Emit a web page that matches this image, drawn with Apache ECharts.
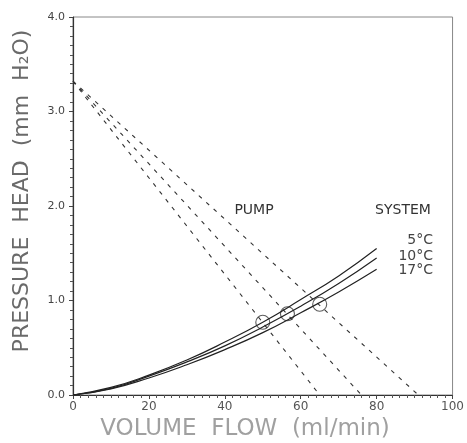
<!DOCTYPE html>
<html>
<head>
<meta charset="utf-8">
<script src="https://cdn.jsdelivr.net/npm/echarts@6/dist/echarts.min.js"></script>
<style>
  html, body { margin: 0; padding: 0; background: #fff; }
  #chart { width: 467px; height: 443px; }
</style>
</head>
<body>
<div id="chart"></div>
<script>
// system curves
var systemFlow = [0, 10, 20, 30, 40, 50, 60, 70, 80];
var system5 = [0, 0.08, 0.21, 0.37, 0.56, 0.77, 1.01, 1.26, 1.55];
var system10 = [0, 0.07, 0.20, 0.35, 0.52, 0.72, 0.94, 1.18, 1.45];
var system17 = [0, 0.065, 0.18, 0.32, 0.48, 0.66, 0.87, 1.09, 1.33];

// pump lines: shut-off head and zero-head flows
var pumpHead0 = 3.32;
var pumpFlowMax = [65, 76, 91];

// operating points (circles)
var opFlow = [50, 56.5, 65];
var opHead = [0.77, 0.86, 0.96];

var xTicks = [0, 20, 40, 60, 80, 100];
var yTicks = [0, 1, 2, 3, 4];

var font = 'DejaVu Sans';

var pairs = function(xs, ys){
    return xs.map(function(x, i){ return [x, ys[i]]; });
};

var series = [];
pumpFlowMax.forEach(function(q){
    series.push({
        type: 'line',
        data: [[0, pumpHead0], [q, 0]],
        symbol: 'none',
        silent: true,
        lineStyle: { color: '#333', width: 1.1, type: [4, 6] }
    });
});
[system5, system10, system17].forEach(function(ys){
    series.push({
        type: 'line',
        data: pairs(systemFlow, ys),
        smooth: true,
        symbol: 'none',
        silent: true,
        lineStyle: { color: '#222', width: 1.2 }
    });
});
series.push({
    type: 'scatter',
    data: pairs(opFlow, opHead),
    symbol: 'circle',
    symbolSize: 14,
    silent: true,
    itemStyle: { color: 'rgba(0,0,0,0)', borderColor: '#333', borderWidth: 1.1 }
});

var txt = function(x, y, s, size, color, align){
    return { type: 'text', x: x, y: y, silent: true,
        style: { text: s, font: size + 'px ' + font, fill: color,
                 textAlign: align || 'center', textVerticalAlign: 'middle' } };
};

var chart = echarts.init(document.getElementById('chart'), null, { renderer: 'canvas' });
chart.setOption({
    animation: false,
    backgroundColor: '#fff',
    grid: {
        left: 73, right: 10, top: 17, bottom: 48,
        show: true, borderColor: '#888', borderWidth: 1, backgroundColor: 'transparent'
    },
    xAxis: {
        type: 'value',
        min: xTicks[0], max: xTicks[xTicks.length - 1], interval: 20,
        axisLine: { lineStyle: { color: '#333', width: 1.2 } },
        axisTick: { show: true, length: 4, lineStyle: { color: '#444' } },
        minorTick: { show: true, splitNumber: 10, length: 3, lineStyle: { color: '#555' } },
        splitLine: { show: false },
        axisLabel: { fontFamily: font, fontSize: 12, color: '#555', margin: 6 }
    },
    yAxis: {
        type: 'value',
        min: yTicks[0], max: yTicks[yTicks.length - 1], interval: 1,
        axisLine: { lineStyle: { color: '#333', width: 1.2 } },
        axisTick: { show: true, length: 4, lineStyle: { color: '#444' } },
        minorTick: { show: true, splitNumber: 10, length: 3, lineStyle: { color: '#555' } },
        splitLine: { show: false },
        axisLabel: {
            fontFamily: font, fontSize: 11, color: '#444', margin: 8,
            formatter: function(v){ return v.toFixed(1); }
        }
    },
    graphic: [
        {
            type: 'text', x: 22, y: 191, rotation: Math.PI / 2, silent: true,
            style: { text: 'PRESSURE  HEAD  (mm  H\u2082O)', font: '22px ' + font, fill: '#6a6a6a',
                     textAlign: 'center', textVerticalAlign: 'middle' }
        },
        txt(245, 429, 'VOLUME  FLOW  (ml/min)', 23, '#a0a0a0'),
        txt(254, 210, 'PUMP', 14, '#333'),
        txt(403, 210, 'SYSTEM', 14, '#333'),
        txt(433, 240, '5\u00b0C', 14, '#444', 'right'),
        txt(433, 256, '10\u00b0C', 14, '#444', 'right'),
        txt(433, 270, '17\u00b0C', 14, '#444', 'right')
    ],
    series: series
});
</script>
</body>
</html>
